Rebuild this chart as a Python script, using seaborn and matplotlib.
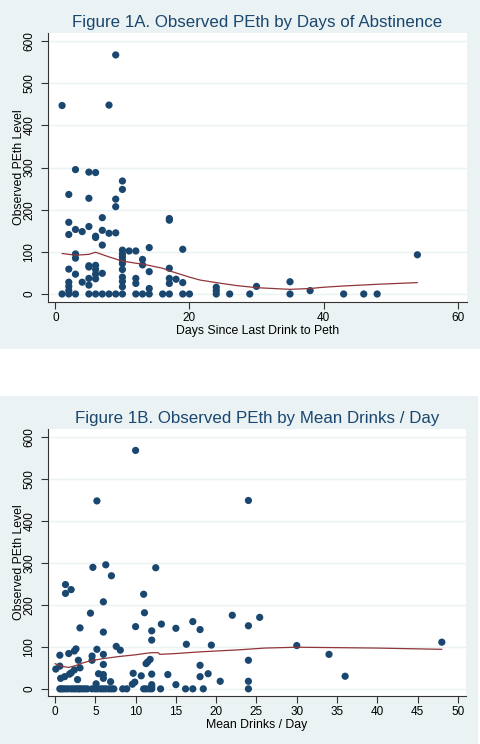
import matplotlib
matplotlib.use("Agg")
import matplotlib.pyplot as plt
from matplotlib.patches import Rectangle
import seaborn as sns
import pandas as pd

# ---------------- Data: Figure 1A ----------------
days = [1, 9, 8, 3, 5, 6, 10, 10, 2, 5, 9, 9, 2, 2, 3, 4, 5, 6, 6, 7, 7, 8, 9, 7,
        3, 3, 3, 2, 2, 2, 2, 4, 5, 5, 5, 5, 6, 6, 6, 6, 7,
        10, 10, 10, 10, 10, 10, 10, 10, 10, 11, 12, 12, 12, 13, 13, 14, 14, 14,
        17, 17, 17, 17, 17, 18, 19, 19,
        1, 2, 3, 5, 6, 7, 8, 9, 10, 12, 13, 14, 16, 17, 19, 20,
        24, 24, 24, 26, 29, 30, 35, 35, 38, 43, 46, 48, 54]
peth_a = [447, 567, 448, 295, 289, 288, 268, 248, 236, 227, 225, 207, 170, 141, 153, 148, 160, 137, 134, 181, 151, 144, 145, 116,
          95, 85, 47, 59, 28, 18, 8, 28, 67, 64, 37, 21, 68, 58, 47, 36, 49,
          104, 95, 88, 80, 72, 58, 40, 30, 17, 102, 102, 37, 25, 82, 69, 110, 53, 13,
          179, 175, 61, 37, 25, 35, 106, 27,
          0, 0, 0, 0, 0, 0, 0, 0, 0, 0, 0, 0, 0, 0, 0, 0,
          16, 8, 0, 0, 0, 18, 29, 0, 8, 0, 0, 0, 93]

lowess_a_x = [1, 3, 5, 6, 8, 10, 12, 13, 16, 17, 19, 20, 21.6, 24, 27, 30, 35, 38, 40, 43, 48, 54]
lowess_a_y = [96, 92, 94, 99, 88, 78, 73, 71, 61, 55, 45, 40, 33, 27, 20, 15, 11, 13, 16, 19, 23, 27]

# ---------------- Data: Figure 1B ----------------
drinks = [10, 5.2, 4.7, 6.3, 7, 12.5, 1.3, 1.3, 2, 11, 6, 4.4, 11.1, 3.1, 6, 10, 13.2, 12, 12, 15,
          17.1, 18, 16.3, 19.4, 22, 20.5, 18, 18, 19, 14, 15,
          7.6, 8.1, 2.6, 2.4, 5.2, 1.7, 0.6, 4.6, 4.6, 6, 6, 2.9, 3.1, 0.6, 0.1, 0.7,
          1.2, 1.8, 2, 2.4, 2.8, 5.4, 6, 6, 5.1, 6.9, 9.6, 9.9, 9.7, 10.7,
          11.3, 11.5, 11.8, 12, 12, 12,
          24, 25.4, 24, 24, 24, 24, 30, 34, 36, 48,
          0.6, 0.8, 1.0, 1.3, 1.6, 2.0, 2.3, 2.6, 2.9, 3.1, 3.4, 3.7, 4.0, 4.6, 5.0, 5.3,
          5.7, 6.0, 6.3, 6.7, 7.0, 7.3, 8.4, 8.9, 11.0, 11.3, 11.7, 12.0, 13.1, 16.2, 17.1, 18.4]
peth_b = [567, 447, 289, 295, 269, 288, 248, 227, 236, 225, 207, 180, 181, 145, 135, 148, 154, 138, 116, 144,
          160, 141, 106, 104, 175, 18, 56, 29, 36, 34, 10,
          101, 92, 95, 90, 94, 84, 80, 78, 68, 82, 58, 68, 50, 54, 47, 25,
          29, 35, 38, 45, 22, 36, 34, 25, 12, 17, 11, 16, 37, 31,
          60, 64, 70, 35, 10, 5,
          448, 170, 150, 68, 18, 0, 103, 82, 30, 111,
          0, 0, 0, 0, 0, 0, 0, 0, 0, 0, 0, 0, 0, 0, 0, 0,
          0, 0, 0, 0, 0, 0, 0, 0, 0, 0, 0, 0, 0, 0, 0, 0]

lowess_b_x = [0, 0.5, 1, 1.7, 2.5, 3.5, 4.5, 6, 8, 10, 11.5, 12, 12.8, 13, 15, 18, 20, 23, 26, 30, 35, 40, 48]
lowess_b_y = [60, 56, 53, 51, 55, 62, 67, 72, 77, 81, 85, 86, 86, 82, 84, 88, 90, 93, 97, 99, 98, 97, 94]

titles = ["Figure 1A. Observed PEth by Days of Abstinence",
          "Figure 1B. Observed PEth by Mean Drinks / Day"]
xlabels = ["Days Since Last Drink to Peth", "Mean Drinks / Day"]
ylabel = "Observed PEth Level"
xticks_a = [0, 20, 40, 60]
xticks_b = [0, 5, 10, 15, 20, 25, 30, 35, 40, 45, 50]
yticks = [0, 100, 200, 300, 400, 500, 600]

# ---------------- Style ----------------
sns.set_theme(style="white")
plt.rcParams['font.family'] = ['Liberation Sans', 'DejaVu Sans']

BG = '#EAF2F3'
NAVY = '#1A476F'
MAROON = '#90353B'

fig = plt.figure(figsize=(4.8, 7.44), dpi=100)
fig.patch.set_facecolor('white')
fig.patches.append(Rectangle((0, 1 - 349 / 744), 1, 349 / 744, transform=fig.transFigure,
                             facecolor=BG, edgecolor='none', zorder=-10))
fig.patches.append(Rectangle((0, 0), 478 / 480, 348 / 744, transform=fig.transFigure,
                             facecolor=BG, edgecolor='none', zorder=-10))

ax1 = fig.add_axes([48 / 480, 1 - 302 / 744, 419 / 480, 269 / 744])
ax2 = fig.add_axes([48 / 480, 1 - 696 / 744, 418 / 480, 267 / 744])

df_a = pd.DataFrame({'x': days, 'y': peth_a})
df_b = pd.DataFrame({'x': drinks, 'y': peth_b})
lw_a = pd.DataFrame({'x': lowess_a_x, 'y': lowess_a_y})
lw_b = pd.DataFrame({'x': lowess_b_x, 'y': lowess_b_y})

panels = [
    (ax1, df_a, lw_a, xticks_a, (-1.1, 61.4), (-19, 619), 419),
    (ax2, df_b, lw_b, xticks_b, (-0.87, 51.0), (-17, 618), 418),
]

for i, (ax, df, lw, xt, xl, yl, wpx) in enumerate(panels):
    ax.set_facecolor('white')
    for y in yticks:
        ax.axhline(y, color=BG, lw=1.0, zorder=0)
    sns.scatterplot(data=df, x='x', y='y', ax=ax, color=NAVY, s=27,
                    edgecolor='none', linewidth=0, zorder=3, legend=False)
    sns.lineplot(data=lw, x='x', y='y', ax=ax, color=MAROON, lw=0.9,
                 zorder=4, estimator=None, sort=True)
    ax.set_xlim(*xl)
    ax.set_ylim(*yl)
    ax.set_xticks(xt)
    ax.set_yticks(yticks)
    ax.set_yticklabels([str(v) for v in yticks], rotation=90, va='center')
    ax.tick_params(axis='both', direction='out', length=5, width=0.8,
                   color='#333333', labelsize=8.5, labelcolor='black',
                   left=True, bottom=True)
    ax.tick_params(axis='y', pad=4)
    ax.tick_params(axis='x', pad=2)
    for s in ['top', 'right']:
        ax.spines[s].set_visible(False)
    for s in ['left', 'bottom']:
        ax.spines[s].set_color('#333333')
        ax.spines[s].set_linewidth(0.8)
    ax.set_xlabel(xlabels[i], fontsize=8.8, color='black', labelpad=1)
    ax.set_ylabel(ylabel, fontsize=8.8, color='black')
    ax.yaxis.set_label_coords((25 - 48) / wpx, 0.5)
    ax.set_title(titles[i], fontsize=12.2, color=NAVY, pad=4)

fig.savefig('out.png', dpi=100, facecolor='white')
